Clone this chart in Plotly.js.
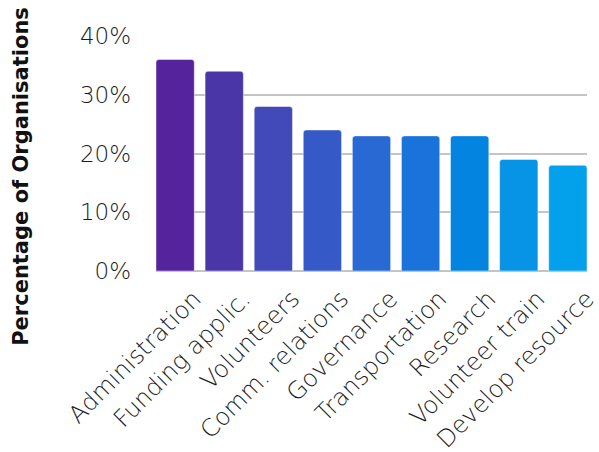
<!DOCTYPE html>
<html>
<head>
<meta charset="utf-8">
<script src="https://cdn.plot.ly/plotly-3.0.1.min.js"></script>
<style>html,body{margin:0;padding:0;background:#fff;}#chart{width:599px;height:452px;}</style>
</head>
<body>
<div id="chart"></div>
<script>
const categories = ["Administration", "Funding applic.", "Volunteers", "Comm. relations", "Governance", "Transportation", "Research", "Volunteer train", "Develop resource"];
const percentages = [36, 34, 28, 24, 23, 23, 23, 19, 18];
const barColors = ["#55239b", "#4a36a6", "#4249b8", "#355ac7", "#2869d3", "#1973db", "#0284e0", "#0793e6", "#03a0ec"];
const yTickValues = [0, 10, 20, 30, 40];
const yTickLabels = ["0%", "10%", "20%", "30%", "40%"];
const yTitle = "Percentage of Organisations";

const trace = {
  type: "bar",
  x: categories,
  y: percentages,
  marker: {color: barColors, line: {color: "rgba(255,255,255,0.45)", width: 1}},
  hoverinfo: "skip"
};

const layout = {
  width: 599, height: 452,
  margin: {l: 156, r: 12, t: 36, b: 181},
  paper_bgcolor: "#fff", plot_bgcolor: "#fff",
  bargap: 0.22,
  barcornerradius: 3,
  showlegend: false,
  font: {family: "DejaVu Sans", size: 22, color: "#222"},
  xaxis: {
    type: "category",
    range: [-0.39, 8.39],
    tickangle: -45,
    showgrid: false,
    showline: false,
    ticks: "",
    ticklabelshift: 19,
    ticklabelstandoff: 8,
    tickfont: {family: "DejaVu Sans", size: 24, color: "#1c1c1c", weight: 300}
  },
  yaxis: {
    range: [0, 40],
    tickvals: yTickValues,
    ticktext: yTickLabels,
    showgrid: true,
    gridcolor: "#c4c4c4",
    gridwidth: 2,
    zeroline: true,
    zerolinecolor: "#c4c4c4",
    zerolinewidth: 2,
    showline: false,
    ticks: "",
    ticklabelstandoff: 24,
    tickfont: {family: "DejaVu Sans", size: 23, color: "#1c1c1c", weight: 300}
  },
  annotations: [{
    text: yTitle,
    textangle: -90,
    xref: "paper", yref: "paper",
    x: (21 - 156) / 431, y: (270.7 - 348) / 235,
    xanchor: "center", yanchor: "bottom",
    showarrow: false,
    font: {family: "DejaVu Sans", size: 21, color: "#111", weight: "bold"}
  }]
};

Plotly.newPlot("chart", [trace], layout, {staticPlot: true, displayModeBar: false});
</script>
</body>
</html>
